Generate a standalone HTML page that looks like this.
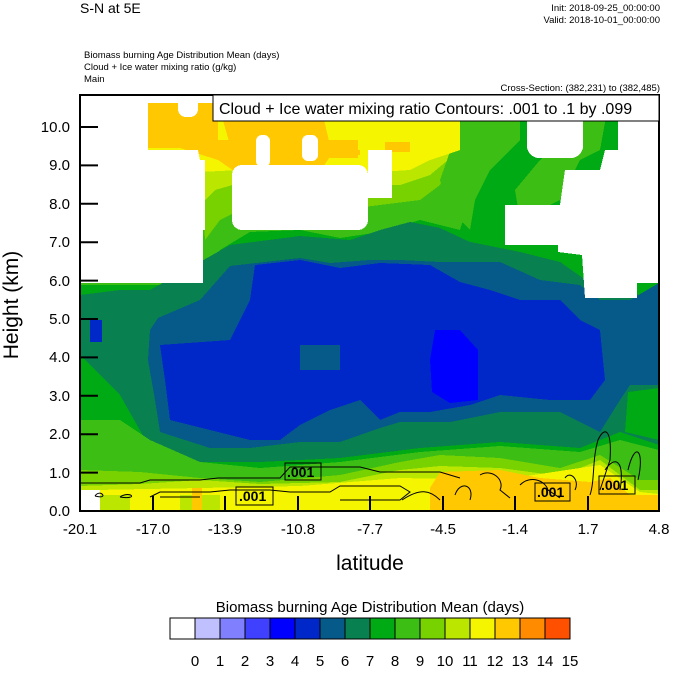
<!DOCTYPE html>
<html><head><meta charset="utf-8"><style>
body{margin:0;background:#fff;width:674px;height:668px;overflow:hidden;font-family:"Liberation Sans",sans-serif}
</style></head><body>
<svg width="674" height="668" viewBox="0 0 674 668" xmlns="http://www.w3.org/2000/svg" font-family="Liberation Sans, sans-serif">
<defs><clipPath id="pc"><rect x="80" y="95" width="579" height="416"/></clipPath></defs>
<g clip-path="url(#pc)" shape-rendering="crispEdges">
<rect x="80" y="95" width="579" height="416" fill="#00aa14"/>
<polygon fill="#3cbe14" points="200,150 440,150 470,200 460,230 420,220 380,232 340,238 300,230 250,232 220,250 210,270 170,285 80,285 80,150"/>
<polygon fill="#78d200" points="200,150 460,150 440,185 420,200 380,205 340,210 300,205 250,205 220,220 205,240 200,150"/>
<polygon fill="#bae600" points="140,150 460,150 430,175 400,185 370,185 330,185 290,180 250,180 215,190 205,200 200,150"/>
<polygon fill="#3cbe14" points="470,95 520,95 520,140 490,170 475,200 470,230 450,210 440,180"/>
<polygon fill="#3cbe14" points="583,95 610,95 600,150 580,160 560,200 520,220 515,190 540,160 560,140"/>
<polygon fill="#f5f500" points="130,103 460,103 460,150 430,160 410,170 380,172 330,175 290,170 240,170 200,172 150,160 130,155"/>
<polygon fill="#ffc800" points="148,103 218,103 218,140 330,140 340,150 360,150 360,155 330,157 310,185 290,190 250,190 240,175 218,160 180,148 148,148"/>
<polygon fill="#ffc800" points="218,103 320,103 330,145 300,150 260,150 230,145"/>
<rect x="330" y="140" width="28" height="18" fill="#ffc800"/>
<rect x="385" y="142" width="25" height="10" fill="#ffc800"/>
<rect x="410" y="142" width="10" height="8" fill="#f5f500"/>
<polygon fill="#088050" points="80,295 120,290 150,290 200,262 230,245 300,236 350,240 380,230 410,222 440,228 470,242 520,252 560,262 600,290 640,295 659,290 659,445 620,432 580,448 500,442 420,448 340,458 260,462 200,462 150,448 120,395 80,355"/>
<polygon fill="#055a8a" points="150,330 158,318 200,300 230,266 300,258 330,263 370,260 400,260 440,262 500,262 540,280 580,285 600,300 630,300 659,283 659,385 630,385 620,400 600,432 560,412 500,412 450,422 400,422 380,428 340,442 300,442 250,448 210,448 160,432 155,400 148,360"/>
<polygon fill="#00aa14" points="628,392 659,388 659,440 625,432"/>
<polygon fill="#088050" points="80,305 130,305 130,345 100,350 80,345"/>
<polygon fill="#0028c8" points="160,345 230,340 240,320 250,300 255,265 300,260 340,268 380,263 430,265 460,282 490,290 520,300 560,300 580,320 600,330 605,380 590,400 550,400 500,395 470,405 430,412 400,412 380,420 360,400 330,410 300,425 280,440 250,440 210,430 170,420 165,380"/>
<rect x="90" y="320" width="12" height="22" fill="#0028c8"/>
<polygon fill="#0000ff" points="435,330 460,330 478,350 478,400 450,403 432,392 430,360"/>
<rect x="300" y="345" width="40" height="25" fill="#055a8a"/>
<polygon fill="#3cbe14" points="80,420 120,420 150,440 200,462 260,468 340,462 420,452 500,446 580,452 620,440 659,450 659,511 80,511"/>
<polygon fill="#78d200" points="80,470 140,472 200,478 260,482 340,475 400,462 440,455 500,458 560,468 600,455 640,480 659,480 659,511 80,511"/>
<polygon fill="#bae600" points="80,486 140,484 200,480 260,484 340,482 400,470 440,466 500,468 560,476 600,460 640,490 659,490 659,511 80,511"/>
<polygon fill="#f5f500" points="95,490 200,488 300,486 400,478 500,480 600,465 640,492 659,494 659,511 95,511"/>
<rect x="80" y="490" width="20" height="21" fill="#ffffff"/>
<rect x="100" y="495" width="30" height="16" fill="#bae600"/>
<rect x="180" y="495" width="40" height="16" fill="#bae600"/>
<rect x="192" y="488" width="10" height="23" fill="#ffc800"/>
<polygon fill="#ffc800" points="430,488 440,472 500,470 540,478 590,482 610,478 630,495 659,495 659,511 430,511"/>
<g fill="#fff">
<rect x="80" y="95" width="68" height="56"/>
<rect x="80" y="95" width="380" height="8"/>
<rect x="178" y="95" width="20" height="22" rx="8"/>
<polygon points="80,150 198,150 200,160 205,160 205,230 203,230 203,283 80,283"/>
<rect x="232" y="165" width="136" height="65" rx="10"/>
<rect x="256" y="135" width="14" height="32" rx="6"/>
<rect x="302" y="135" width="16" height="26" rx="6"/>
<rect x="368" y="150" width="24" height="48"/>
<rect x="527" y="95" width="56" height="63" rx="12"/>
<polygon points="618,95 659,95 659,283 637,283 637,298 585,298 582,255 558,252 558,245 505,245 505,205 560,205 565,170 600,170 605,150 618,150"/>
</g>
<g fill="none" stroke="#000" stroke-width="1" shape-rendering="auto">
<path d="M80,483 H140 L150,480 H200 L218,478 H280 L290,467 H360 L380,472 H440 L460,478"/>
<path d="M95,496 C100,488 110,500 95,496 M120,497 C130,490 140,500 120,497 M150,497 L160,492 H210 L230,490 H270 L290,492 H330 L340,486 H400 L410,492 L400,500 H340 M160,497 H200"/>
<path d="M402,500 C420,488 430,490 440,500 M455,495 C460,480 475,485 470,500 M480,475 C492,468 505,480 500,490 L510,498 M520,485 C530,475 545,480 548,490 L560,498 M565,478 C570,470 580,480 575,490"/>
<path d="M590,495 C595,480 592,460 598,440 C605,425 612,430 610,460 L600,490 M605,470 C615,455 625,460 620,490 M628,470 C635,440 645,450 638,480"/>
</g>
</g>
<g font-size="14" font-weight="bold">
<rect x="236" y="487" width="37" height="18" fill="none" stroke="#000"/><text x="239" y="501">.001</text>
<rect x="285" y="463" width="36" height="17" fill="none" stroke="#000"/><text x="287" y="477">.001</text>
<rect x="535" y="483" width="35" height="18" fill="none" stroke="#000"/><text x="537" y="497">.001</text>
<rect x="599" y="476" width="36" height="18" fill="none" stroke="#000"/><text x="601" y="490">.001</text>
</g>
<rect x="80" y="95" width="579" height="416" fill="none" stroke="#000" stroke-width="2"/>
<g stroke="#000" stroke-width="2">
<line x1="80" y1="127" x2="98" y2="127"/><line x1="80" y1="165.4" x2="98" y2="165.4"/><line x1="80" y1="203.8" x2="98" y2="203.8"/><line x1="80" y1="242.2" x2="98" y2="242.2"/><line x1="80" y1="280.6" x2="98" y2="280.6"/><line x1="80" y1="319" x2="98" y2="319"/><line x1="80" y1="357.4" x2="98" y2="357.4"/><line x1="80" y1="395.8" x2="98" y2="395.8"/><line x1="80" y1="434.2" x2="98" y2="434.2"/><line x1="80" y1="472.6" x2="98" y2="472.6"/>
<line x1="153" y1="511" x2="153" y2="496"/><line x1="225" y1="511" x2="225" y2="496"/><line x1="298" y1="511" x2="298" y2="496"/><line x1="370" y1="511" x2="370" y2="496"/><line x1="443" y1="511" x2="443" y2="496"/><line x1="515" y1="511" x2="515" y2="496"/><line x1="588" y1="511" x2="588" y2="496"/>
</g>
<g font-size="15" text-anchor="end">
<text x="70" y="132">10.0</text><text x="70" y="170">9.0</text><text x="70" y="209">8.0</text><text x="70" y="247">7.0</text><text x="70" y="286">6.0</text><text x="70" y="324">5.0</text><text x="70" y="362">4.0</text><text x="70" y="401">3.0</text><text x="70" y="439">2.0</text><text x="70" y="478">1.0</text><text x="70" y="516">0.0</text>
</g>
<g font-size="15" text-anchor="middle">
<text x="80" y="534">-20.1</text><text x="153" y="534">-17.0</text><text x="225" y="534">-13.9</text><text x="298" y="534">-10.8</text><text x="370" y="534">-7.7</text><text x="443" y="534">-4.5</text><text x="515" y="534">-1.4</text><text x="588" y="534">1.7</text><text x="659" y="534">4.8</text>
</g>
<text x="370" y="570" font-size="21" text-anchor="middle">latitude</text>
<text transform="translate(18,305) rotate(-90)" font-size="21" text-anchor="middle">Height (km)</text>
<text x="80" y="13" font-size="14">S-N at 5E</text>
<g font-size="9.5" text-anchor="end"><text x="660" y="11">Init: 2018-09-25_00:00:00</text><text x="660" y="23">Valid: 2018-10-01_00:00:00</text><text x="660" y="91">Cross-Section: (382,231) to (382,485)</text></g>
<g font-size="9.5"><text x="84" y="58">Biomass burning Age Distribution Mean    (days)</text><text x="84" y="70">Cloud + Ice water mixing ratio    (g/kg)</text><text x="84" y="82">Main</text></g>
<rect x="213" y="95" width="446" height="26" fill="#fff" stroke="#000" stroke-width="1"/>
<text x="219" y="114" font-size="16">Cloud + Ice water mixing ratio Contours: .001 to .1 by .099</text>
<text x="370" y="612" font-size="15" text-anchor="middle">Biomass burning Age Distribution Mean  (days)</text>
<g stroke="#000" stroke-width="1" shape-rendering="crispEdges">
<rect x="170" y="618" width="25" height="21" fill="#ffffff"/><rect x="195" y="618" width="25" height="21" fill="#c0c0ff"/><rect x="220" y="618" width="25" height="21" fill="#8080ff"/><rect x="245" y="618" width="25" height="21" fill="#4040ff"/><rect x="270" y="618" width="25" height="21" fill="#0000ff"/><rect x="295" y="618" width="25" height="21" fill="#0028c8"/><rect x="320" y="618" width="25" height="21" fill="#055a8a"/><rect x="345" y="618" width="25" height="21" fill="#088050"/><rect x="370" y="618" width="25" height="21" fill="#00aa14"/><rect x="395" y="618" width="25" height="21" fill="#3cbe14"/><rect x="420" y="618" width="25" height="21" fill="#78d200"/><rect x="445" y="618" width="25" height="21" fill="#bae600"/><rect x="470" y="618" width="25" height="21" fill="#f5f500"/><rect x="495" y="618" width="25" height="21" fill="#ffc800"/><rect x="520" y="618" width="25" height="21" fill="#ff8c00"/><rect x="545" y="618" width="25" height="21" fill="#ff5000"/>
</g>
<g font-size="15" text-anchor="middle">
<text x="195" y="666">0</text><text x="220" y="666">1</text><text x="245" y="666">2</text><text x="270" y="666">3</text><text x="295" y="666">4</text><text x="320" y="666">5</text><text x="345" y="666">6</text><text x="370" y="666">7</text><text x="395" y="666">8</text><text x="420" y="666">9</text><text x="445" y="666">10</text><text x="470" y="666">11</text><text x="495" y="666">12</text><text x="520" y="666">13</text><text x="545" y="666">14</text><text x="570" y="666">15</text>
</g>
</svg>
</body></html>
